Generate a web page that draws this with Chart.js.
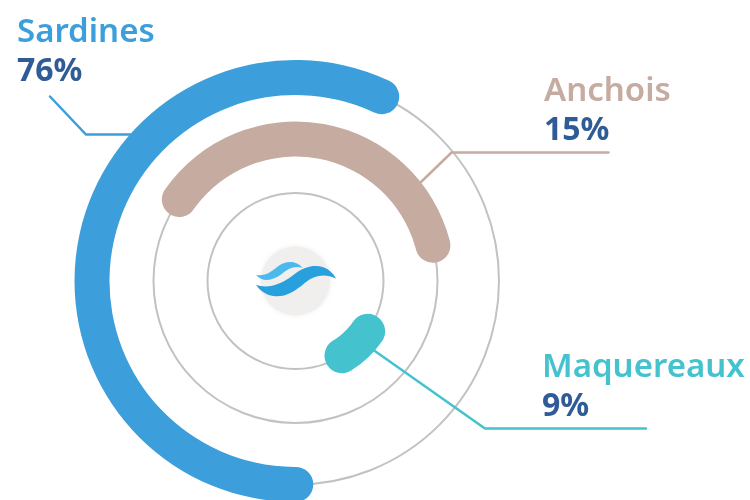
<!DOCTYPE html>
<html lang="fr">
<head>
<meta charset="utf-8">
<title>Sardines, Anchois, Maquereaux</title>
<script src="https://cdn.jsdelivr.net/npm/chart.js@4"></script>
<style>
    html, body { margin: 0; padding: 0; background: #fff; }
    #wrap { position: relative; width: 750px; height: 500px; overflow: hidden; }
    canvas { position: absolute; left: 0; top: 0; }
    .label {
        position: absolute;
        font-family: "Noto Sans", sans-serif;
        font-weight: 600;
        font-size: 33px;
        line-height: 39px;
        white-space: nowrap;
    }
    .label b { display: block; font-size: 32px; font-weight: 700; color: #2f5b96; }
    #logo { position: absolute; left: 230px; top: 230px; width: 170px; height: 170px; }
</style>
</head>
<body>
<div id="wrap">
    <canvas id="fishChart" width="750" height="500"></canvas>
    <svg id="logo" viewBox="0 0 510 510">
        <path fill="#4bb9ee" d="M78 135 C105 140 125 125 145 108 C170 90 200 92 218 113 C190 106 172 118 155 132 C130 152 98 158 78 135 Z"/>
        <path fill="#29a0de" d="M78 165 C115 176 150 165 190 135 C225 108 255 104 280 112 C297 118 310 130 318 146 C285 130 255 135 225 158 C190 188 165 202 130 198 C108 195 90 182 78 165 Z"/>
    </svg>
    <div class="label" id="label0" style="left:17px;top:10px"></div>
    <div class="label" id="label1" style="left:544px;top:69px"></div>
    <div class="label" id="label2" style="left:542px;top:345px"></div>
</div>
<script>
// Valeurs
const categories = ['Sardines', 'Anchois', 'Maquereaux'];
const percents = [76, 15, 9];
// les arcs ne sont pas proportionnels aux %, donc angles relevés à part (degrés)
const arcStarts = [175, -62, 113.5];
const arcSweeps = [215, 144.5, 46];
const colors = ['#3c9fdc', '#c5aba0', '#44c3cf'];

categories.forEach(function(name, i) {
    const el = document.getElementById('label' + i);
    el.style.color = colors[i];
    el.innerHTML = name + '<b>' + percents[i] + '%</b>';
});

function ring(i) {
    return {
        label: categories[i],
        data: [arcSweeps[i], 360 - arcSweeps[i]],
        backgroundColor: [colors[i], 'rgba(0,0,0,0)'],
        rotation: arcStarts[i],
        borderRadius: [17.5, 0],
        weight: 35
    };
}

function spacer(weight) {
    return { data: [1], backgroundColor: ['rgba(0,0,0,0)'], weight: weight };
}

// cercles gris, lignes de rappel et disque central
const decorPlugin = {
    id: 'decor',
    beforeDatasetsDraw: function(chart) {
        const ctx = chart.ctx;
        const area = chart.chartArea;
        const cx = (area.left + area.right) / 2;
        const cy = (area.top + area.bottom) / 2;

        ctx.save();
        ctx.strokeStyle = '#c2c2c2';
        ctx.lineWidth = 2;
        [0, 2, 4].forEach(function(index) {
            const arc = chart.getDatasetMeta(index).data[0];
            ctx.beginPath();
            ctx.arc(cx, cy, (arc.innerRadius + arc.outerRadius) / 2, 0, Math.PI * 2);
            ctx.stroke();
        });

        ctx.shadowColor = 'rgba(0,0,0,0.08)';
        ctx.shadowBlur = 5;
        ctx.fillStyle = '#f0efee';
        ctx.beginPath();
        ctx.arc(cx, cy, 34.5, 0, Math.PI * 2);
        ctx.fill();
        ctx.restore();

        const leaders = [
            [[50, 96.5], [86, 134.5], [132, 134.5]],
            [[421, 182], [451.5, 152.5], [608.5, 152.5]],
            [[372, 349], [485, 428.5], [646, 428.5]]
        ];
        ctx.save();
        ctx.lineWidth = 2.5;
        ctx.lineCap = 'round';
        leaders.forEach(function(pts, i) {
            ctx.strokeStyle = colors[i];
            ctx.beginPath();
            ctx.moveTo(pts[0][0], pts[0][1]);
            ctx.lineTo(pts[1][0], pts[1][1]);
            ctx.lineTo(pts[2][0], pts[2][1]);
            ctx.stroke();
        });
        ctx.restore();
    }
};

new Chart(document.getElementById('fishChart'), {
    type: 'doughnut',
    data: {
        datasets: [ring(0), spacer(26.5), ring(1), spacer(19), ring(2)]
    },
    options: {
        responsive: false,
        animation: false,
        radius: 221,
        cutout: '31.9%',
        borderWidth: 0,
        layout: { padding: { left: 0, right: 159, top: 62, bottom: 0 } },
        plugins: { legend: { display: false }, tooltip: { enabled: false } },
        events: []
    },
    plugins: [decorPlugin]
});
</script>
</body>
</html>
